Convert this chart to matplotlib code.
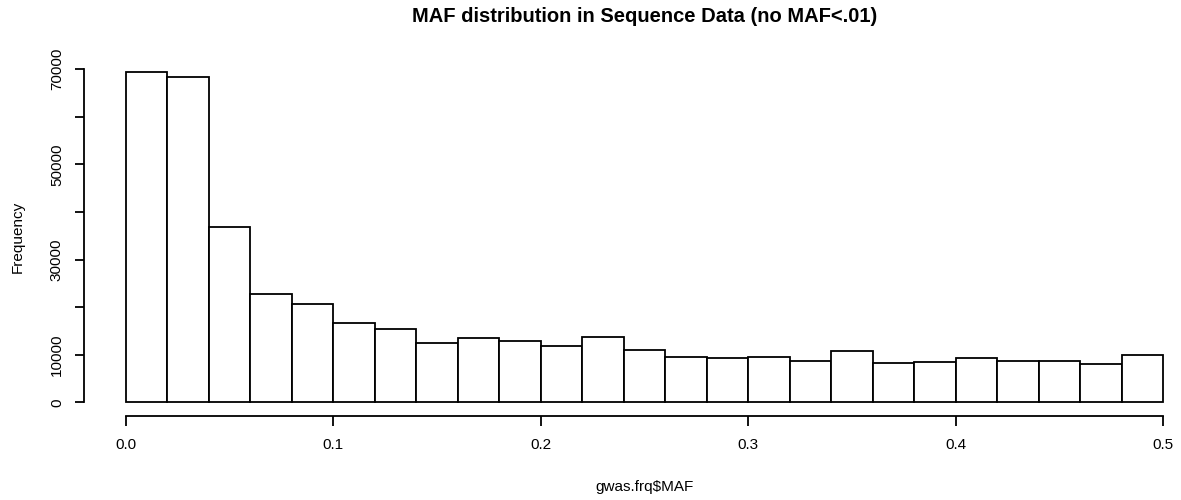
import numpy as np
import matplotlib
matplotlib.use("Agg")
import matplotlib.pyplot as plt

# histogram of MAF, bins of width 0.02 from 0 to 0.5
bin_edges = np.round(np.arange(0, 0.5001, 0.02), 2)
counts = [69430, 68380, 36920, 22760, 20660, 16800, 15540, 12530, 13550,
          13020, 11900, 13730, 11060, 9660, 9450, 9660, 8690, 10850,
          8270, 8480, 9450, 8760, 8620, 8130, 9950]
xticks = [0.0, 0.1, 0.2, 0.3, 0.4, 0.5]
xtick_labels = ["0.0", "0.1", "0.2", "0.3", "0.4", "0.5"]
yticks = [0, 10000, 20000, 30000, 40000, 50000, 60000, 70000]
ytick_labels = ["0", "10000", "", "30000", "", "50000", "", "70000"]

plt.rcParams["font.family"] = ["Liberation Sans", "DejaVu Sans"]

W, H = 1181, 500
fig = plt.figure(figsize=(W / 100, H / 100), dpi=100)
left, right, bottom, top = 84.3, 1204.5, 415.7, 58.8
ax = fig.add_axes([left / W, 1 - bottom / H, (right - left) / W, (bottom - top) / H])

lw = 1.3
ax.bar(bin_edges[:-1], counts, width=0.02, align="edge", facecolor="white",
       edgecolor="black", linewidth=lw)

ymax = max(counts)
ax.set_xlim(-0.02, 0.52)
ax.set_ylim(-0.04 * ymax, 1.04 * ymax)

for s in ["top", "right"]:
    ax.spines[s].set_visible(False)
ax.spines["left"].set_bounds(0, 70000)
ax.spines["bottom"].set_bounds(0, 0.5)
ax.spines["left"].set_linewidth(lw)
ax.spines["bottom"].set_linewidth(lw)

ax.set_xticks(xticks)
ax.set_xticklabels(xtick_labels)
ax.set_yticks(yticks)
ax.set_yticklabels(ytick_labels, rotation=90, va="center")
ax.tick_params(axis="x", length=7.2, width=lw, labelsize=11, pad=9)
ax.tick_params(axis="y", length=6.7, width=lw, labelsize=11, pad=8)

cx = (left + right) / 2 / W
fig.text(cx, 1 - 17 / H, "MAF distribution in Sequence Data (no MAF<.01)",
         ha="center", va="center", fontsize=14.5, fontweight="bold")
fig.text(cx, 1 - 487 / H, "gwas.frq$MAF", ha="center", va="center", fontsize=11)
fig.text(18 / W, 1 - ((70 + 403) / 2) / H, "Frequency", ha="center", va="center",
         rotation=90, fontsize=11)

fig.savefig("out.png", dpi=100)
